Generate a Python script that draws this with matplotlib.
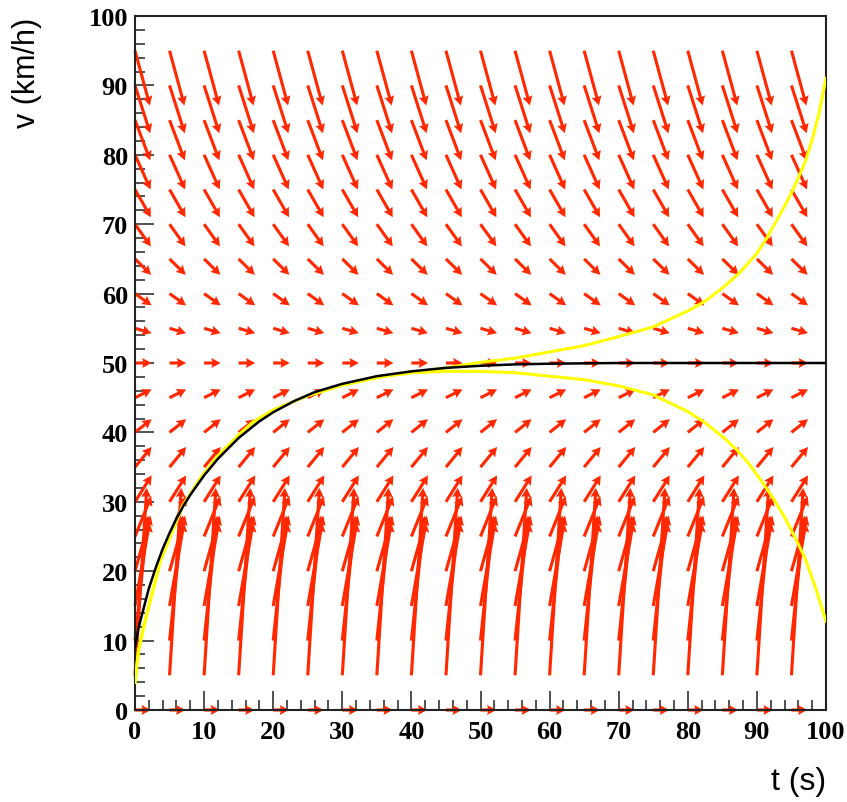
"""
Direction field of dv/dt for a car approaching its terminal speed,
with one solution (black) and two perturbed solutions (yellow).
"""

import numpy as np
import matplotlib
matplotlib.use('Agg')
import matplotlib.pyplot as plt
from matplotlib.ticker import MultipleLocator

# --- direction field grid -------------------------------------------------
t_grid = [0, 5, 10, 15, 20, 25, 30, 35, 40, 45,
          50, 55, 60, 65, 70, 75, 80, 85, 90, 95]
v_grid = [0, 5, 10, 15, 20, 25, 30, 35, 40, 45,
          50, 55, 60, 65, 70, 75, 80, 85, 90, 95]

# arrow components (in data units) for each row of v_grid
arrow_dt = [2.3, 1.7, 1.9, 2.1, 2.25, 2.35, 2.4, 2.4, 2.4, 2.4,
            2.4, 2.4, 2.4, 2.35, 2.3, 2.3, 2.25, 2.2, 2.2, 2.15]
arrow_dv = [0.0, 27.0, 18.0, 12.0, 8.0, 5.8, 3.8, 2.9, 1.9, 1.2,
            0.0, -0.7, -1.7, -2.3, -3.2, -4.0, -5.0, -5.8, -6.9, -7.9]

# --- solution curves -------------------------------------------------------
t_black = [0, 0.5, 1, 2, 3, 4, 5, 6, 7, 8, 10, 12, 15, 18, 20, 23, 26,
           30, 35, 40, 45, 50, 55, 60, 70, 80, 90, 100]
v_black = [9.0, 11.8, 13.7, 17.5, 20.5, 23.2, 25.5, 27.6, 29.4, 31.0,
           33.8, 36.2, 39.2, 41.6, 42.9, 44.5, 45.8, 47.0, 48.1, 48.8,
           49.3, 49.6, 49.8, 49.9, 50.0, 50.0, 50.0, 50.0]

t_common = [0, 0.5, 1.2, 2, 3, 3.6, 5, 6.9, 9.4, 12, 15, 17.1, 20, 25,
            30, 35.5, 40]
v_common = [4.0, 8.5, 11.7, 15.0, 18.8, 21.3, 24.8, 29.4, 33.3, 36.6,
            39.6, 41.5, 43.2, 45.3, 46.8, 48.0, 48.6]

t_upper = t_common + [45, 50, 55, 60, 65, 70, 75, 80, 82.5, 85, 87.5,
                      90, 91.5, 93, 94, 95, 96, 97, 98, 99, 100]
v_upper = v_common + [49.3, 50.1, 50.7, 51.6, 52.5, 53.8, 55.2, 57.5,
                      58.9, 60.8, 63.0, 65.8, 68.1, 70.8, 72.6, 74.5,
                      76.7, 79.0, 82.2, 86.0, 91.0]

t_lower = t_common + [45, 50, 55, 60, 65, 70, 75, 80, 82.5, 85, 87,
                      89, 91, 92.5, 94, 95.5, 97, 98.5, 100]
v_lower = v_common + [48.8, 48.8, 48.6, 48.1, 47.6, 46.7, 45.4, 43.0,
                      41.4, 39.4, 37.6, 35.3, 32.5, 30.3, 27.8, 24.9,
                      21.8, 17.6, 12.8]

ARROW_RED = '#ff2800'


def main():
    fig = plt.figure(figsize=(8.47, 8.03), dpi=100)
    ax = fig.add_axes([135 / 847, 92 / 803, 691 / 847, 694 / 803])

    # direction field
    T, V = np.meshgrid(t_grid, v_grid)
    U = np.tile(np.array(arrow_dt)[:, None], (1, len(t_grid)))
    W = np.tile(np.array(arrow_dv)[:, None], (1, len(t_grid)))
    ax.quiver(T, V, U, W, angles='xy', scale_units='xy', scale=1,
              color=ARROW_RED, width=0.0045, headwidth=3.2,
              headlength=3.0, headaxislength=2.7, zorder=2,
              clip_on=False)

    # solutions
    ax.plot(t_upper, v_upper, color='#ffff00', lw=2.2, zorder=3)
    ax.plot(t_lower, v_lower, color='#ffff00', lw=2.2, zorder=3)
    ax.plot(t_black, v_black, color='black', lw=1.8, zorder=4)

    ax.set_xlim(0, 100)
    ax.set_ylim(0, 100)

    # ROOT-like axes: ticks inside, only on bottom/left
    ax.xaxis.set_major_locator(MultipleLocator(10))
    ax.xaxis.set_minor_locator(MultipleLocator(2))
    ax.yaxis.set_major_locator(MultipleLocator(10))
    ax.yaxis.set_minor_locator(MultipleLocator(2))
    ax.tick_params(which='both', direction='in', top=False, right=False,
                   color='#222222', width=1.1)
    ax.tick_params(which='major', length=13.5)
    ax.tick_params(which='minor', length=7)
    ax.tick_params(axis='x', which='major', pad=7)
    ax.tick_params(axis='y', which='major', pad=5)
    for lab in ax.get_xticklabels() + ax.get_yticklabels():
        lab.set_fontfamily('Liberation Serif')
        lab.set_fontweight('bold')
        lab.set_fontsize(19)
    for sp in ax.spines.values():
        sp.set_linewidth(1.5)
        sp.set_color('#222222')

    # axis titles
    fig.text(27 / 847, 1 - 18 / 803, 'v (km/h)', rotation=90,
             ha='center', va='top', fontsize=22,
             fontfamily='Liberation Sans')
    fig.text(826 / 847, 1 - 782 / 803, 't (s)', ha='right',
             va='center', fontsize=23, fontfamily='Liberation Sans')

    fig.savefig('out.png', dpi=100, facecolor='white')
    plt.close(fig)


if __name__ == '__main__':
    main()
